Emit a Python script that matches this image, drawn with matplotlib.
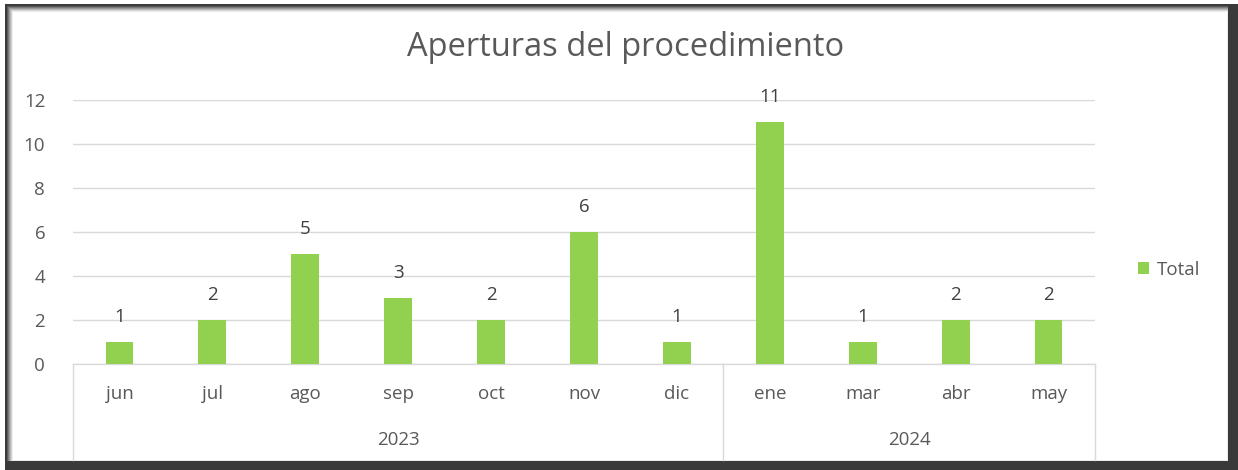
import matplotlib.pyplot as plt
from matplotlib.patches import Rectangle, Patch

months = ['jun', 'jul', 'ago', 'sep', 'oct', 'nov', 'dic', 'ene', 'mar', 'abr', 'may']
years = ['2023', '2024']
months_per_year = [7, 4]
totals = [1, 2, 5, 3, 2, 6, 1, 11, 1, 2, 2]

W, H = 1238, 470
plt.rcParams['font.family'] = ['Open Sans', 'DejaVu Sans']

fig = plt.figure(figsize=(W / 100, H / 100), dpi=100)
fig.patch.set_facecolor('white')

# frame with a soft shadow, like the screenshot
def px_rect(x0, y0, x1, y1, **kw):
    return Rectangle((x0 / W, 1 - y1 / H), (x1 - x0) / W, (y1 - y0) / H,
                     transform=fig.transFigure, zorder=-10, **kw)

fig.patches.append(px_rect(5, 4, 1238, 470, facecolor='#3a3a3a', edgecolor='none'))
shades = ['#5a5a5a', '#7a7a7a', '#9a9a9a', '#b8b8b8', '#d4d4d4', '#ececec']
for k, c in enumerate(shades):
    fig.patches.append(px_rect(7 + k, 6 + k, 1228, 461, facecolor=c, edgecolor='none'))
fig.patches.append(px_rect(13, 12, 1227, 460, facecolor='white', edgecolor='none'))

# plot area in pixels: x 73..1095, y 100..364
ax = fig.add_axes([73 / W, 106 / H, (1095 - 73) / W, 264 / H])
ax.set_facecolor('none')
x = list(range(len(months)))
ax.bar(x, totals, width=0.3, color='#92d050', zorder=3, label='Total')
ax.set_xlim(-0.5, len(months) - 0.5)
ax.set_ylim(0, 12)
ax.set_yticks(range(0, 13, 2))
ax.yaxis.grid(True, color='#d9d9d9', linewidth=1)
ax.set_axisbelow(True)
for s in ax.spines.values():
    s.set_visible(False)
ax.tick_params(axis='y', length=0, pad=20, labelsize=13.5, labelcolor='#595959')
ax.set_xticks([])

for xi, v in zip(x, totals):
    ax.annotate(str(v), (xi, v), xytext=(0, 18), textcoords='offset points',
                ha='center', va='center', fontsize=13.5, color='#404040')

# two-level category axis
tr = ax.get_xaxis_transform()
line_kw = dict(color='#d9d9d9', linewidth=1, clip_on=False, transform=tr)
ax.plot([-0.5, len(months) - 0.5], [0, 0], **line_kw)
bottom = -96 / 264
edges = [-0.5]
for n in months_per_year:
    edges.append(edges[-1] + n)
for e in edges:
    ax.plot([e, e], [0, bottom], **line_kw)
for xi, m in zip(x, months):
    ax.text(xi, -30 / 264, m, transform=tr, ha='center', va='center',
            fontsize=13.5, color='#595959')
for yr, a, b in zip(years, edges[:-1], edges[1:]):
    ax.text((a + b) / 2, -76 / 264, yr, transform=tr, ha='center', va='center',
            fontsize=13.5, color='#595959')

fig.text(626 / W, 1 - 48 / H, 'Aperturas del procedimiento', ha='center', va='center',
         fontsize=23.5, color='#595959')

fig.legend(handles=[Patch(facecolor='#92d050', label='Total')], loc='center left',
           bbox_to_anchor=(1121 / W, 1 - 270 / H), frameon=False, fontsize=13.5,
           handlelength=0.6, handleheight=0.6, handletextpad=0.4, labelcolor='#595959')

fig.savefig('out.png', dpi=100)
